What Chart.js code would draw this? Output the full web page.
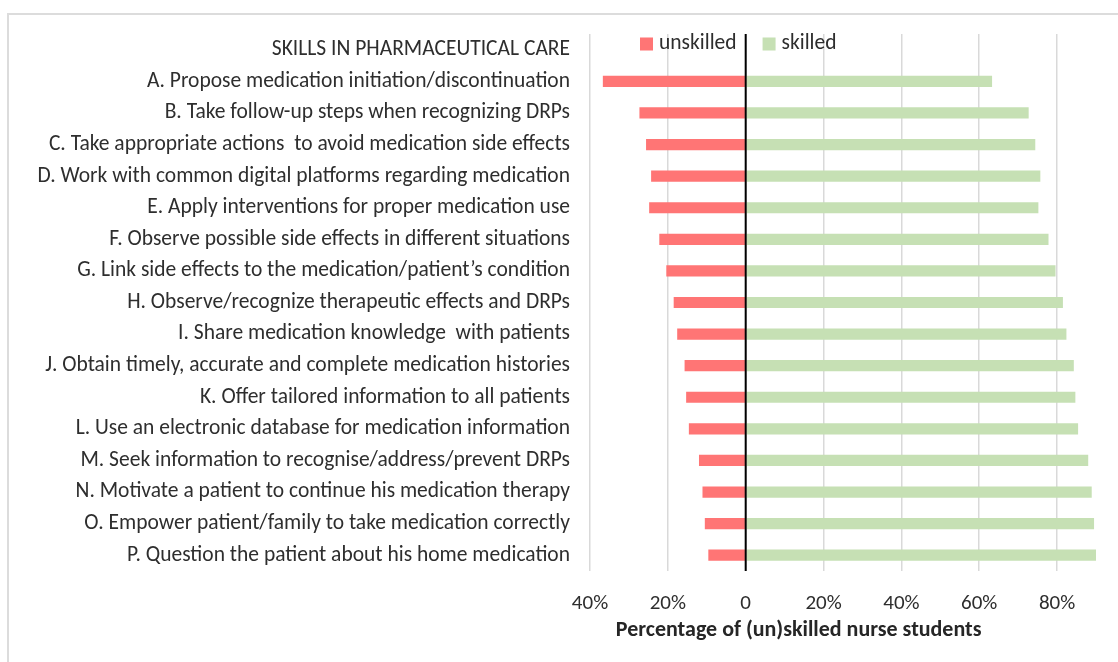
<!DOCTYPE html>
<html>
<head>
<meta charset="utf-8">
<script src="https://cdn.jsdelivr.net/npm/chart.js@4.4.1/dist/chart.umd.min.js"></script>
<style>
  html, body { margin: 0; padding: 0; background: #fff; }
  #wrap { position: relative; width: 1118px; height: 662px; overflow: hidden; }
  #frame { position: absolute; left: 7px; top: 13px; width: 1140px; height: 700px; border: 2px solid #dcdcdc; box-sizing: border-box; }
  #skills { position: absolute; left: 0; top: 0; }
</style>
</head>
<body>
<div id="wrap">
  <div id="frame"></div>
  <canvas id="skills" width="1118" height="662"></canvas>
</div>
<script>
// first row is the header, it has no bars
const categories = [
    'SKILLS IN PHARMACEUTICAL CARE',
    'A. Propose medication initiation/discontinuation',
    'B. Take follow-up steps when recognizing DRPs',
    'C. Take appropriate actions  to avoid medication side effects',
    'D. Work with common digital platforms regarding medication',
    'E. Apply interventions for proper medication use',
    'F. Observe possible side effects in different situations',
    'G. Link side effects to the medication/patient\u2019s condition',
    'H. Observe/recognize therapeutic effects and DRPs',
    'I. Share medication knowledge  with patients',
    'J. Obtain timely, accurate and complete medication histories',
    'K. Offer tailored information to all patients',
    'L. Use an electronic database for medication information',
    'M. Seek information to recognise/address/prevent DRPs',
    'N. Motivate a patient to continue his medication therapy',
    'O. Empower patient/family to take medication correctly',
    'P. Question the patient about his home medication',
];
const unskilled = [null, 36.7, 27.3, 25.6, 24.3, 24.8, 22.2, 20.4, 18.5, 17.6, 15.7, 15.3, 14.6, 12.0, 11.1, 10.5, 9.6];
const skilled = [null, 63.3, 72.7, 74.4, 75.7, 75.2, 77.8, 79.6, 81.5, 82.4, 84.3, 84.7, 85.4, 88.0, 88.9, 89.5, 90.4];
const xTickValues = [-40, -20, 0, 20, 40, 60, 80];
const xMin = -40;
const xMax = 90;

const FONT_FAMILY = 'Carlito, Lato, sans-serif';
const TEXT_COLOR = '#2e2e2e';
const RED = '#ff7575';
const GREEN = '#c6e0b4';

const overlayPlugin = {
    id: 'overlay',
    afterDatasetsDraw(chart) {
        const ctx = chart.ctx;
        const area = chart.chartArea;
        const x = chart.scales.x;

        // the vertical axis line at 0 sits on top of the bars
        const x0 = x.getPixelForValue(0);
        ctx.save();
        ctx.strokeStyle = '#000';
        ctx.lineWidth = 2;
        ctx.beginPath();
        ctx.moveTo(x0, area.top);
        ctx.lineTo(x0, area.bottom);
        ctx.stroke();

        // legend inside the header row
        ctx.font = '21.5px ' + FONT_FAMILY;
        ctx.textBaseline = 'middle';
        ctx.textAlign = 'left';
        let lx = area.left + 50;
        const ly = area.top + 10;
        chart.data.datasets.forEach(function (ds) {
            ctx.fillStyle = ds.backgroundColor;
            ctx.fillRect(lx, ly - 6.5, 13, 13);
            ctx.fillStyle = TEXT_COLOR;
            ctx.fillText(ds.label, lx + 19, ly);
            lx += 19 + ctx.measureText(ds.label).width + 26;
        });

        // axis title
        ctx.font = 'bold 22px ' + FONT_FAMILY;
        ctx.textAlign = 'center';
        ctx.fillStyle = '#262626';
        ctx.fillText('Percentage of (un)skilled nurse students', x.getPixelForValue(13.6), area.bottom + 59);
        ctx.restore();
    },
};

new Chart(document.getElementById('skills').getContext('2d'), {
    type: 'bar',
    data: {
        labels: categories,
        datasets: [{
            label: 'unskilled',
            data: unskilled.map(function (v) { return v === null ? null : -v; }),
            backgroundColor: RED,
            barPercentage: 0.355,
            categoryPercentage: 1,
        }, {
            label: 'skilled',
            data: skilled,
            backgroundColor: GREEN,
            barPercentage: 0.355,
            categoryPercentage: 1,
        }],
    },
    options: {
        indexAxis: 'y',
        responsive: false,
        animation: false,
        layout: { padding: { left: 0, right: 22, top: 34, bottom: 0 } },
        plugins: {
            legend: { display: false },
            tooltip: { enabled: false },
        },
        scales: {
            x: {
                stacked: true,
                min: xMin,
                max: xMax,
                afterBuildTicks: function (scale) {
                    scale.ticks = xTickValues.map(function (v) { return { value: v }; });
                },
                afterFit: function (scale) { scale.height = 91; },
                grid: {
                    color: '#d9d9d9',
                    lineWidth: 1.5,
                    drawTicks: false,
                },
                border: { display: false },
                ticks: {
                    padding: 20,
                    color: TEXT_COLOR,
                    font: { family: FONT_FAMILY, size: 21 },
                    callback: function (v) { return v === 0 ? '0' : Math.abs(v) + '%'; },
                },
            },
            y: {
                stacked: true,
                afterFit: function (scale) { scale.width = 590; },
                grid: { display: false, drawTicks: false },
                border: { display: false },
                ticks: {
                    padding: 20,
                    autoSkip: false,
                    color: TEXT_COLOR,
                    font: { family: FONT_FAMILY, size: 21.5 },
                },
            },
        },
    },
    plugins: [overlayPlugin],
});
</script>
</body>
</html>
